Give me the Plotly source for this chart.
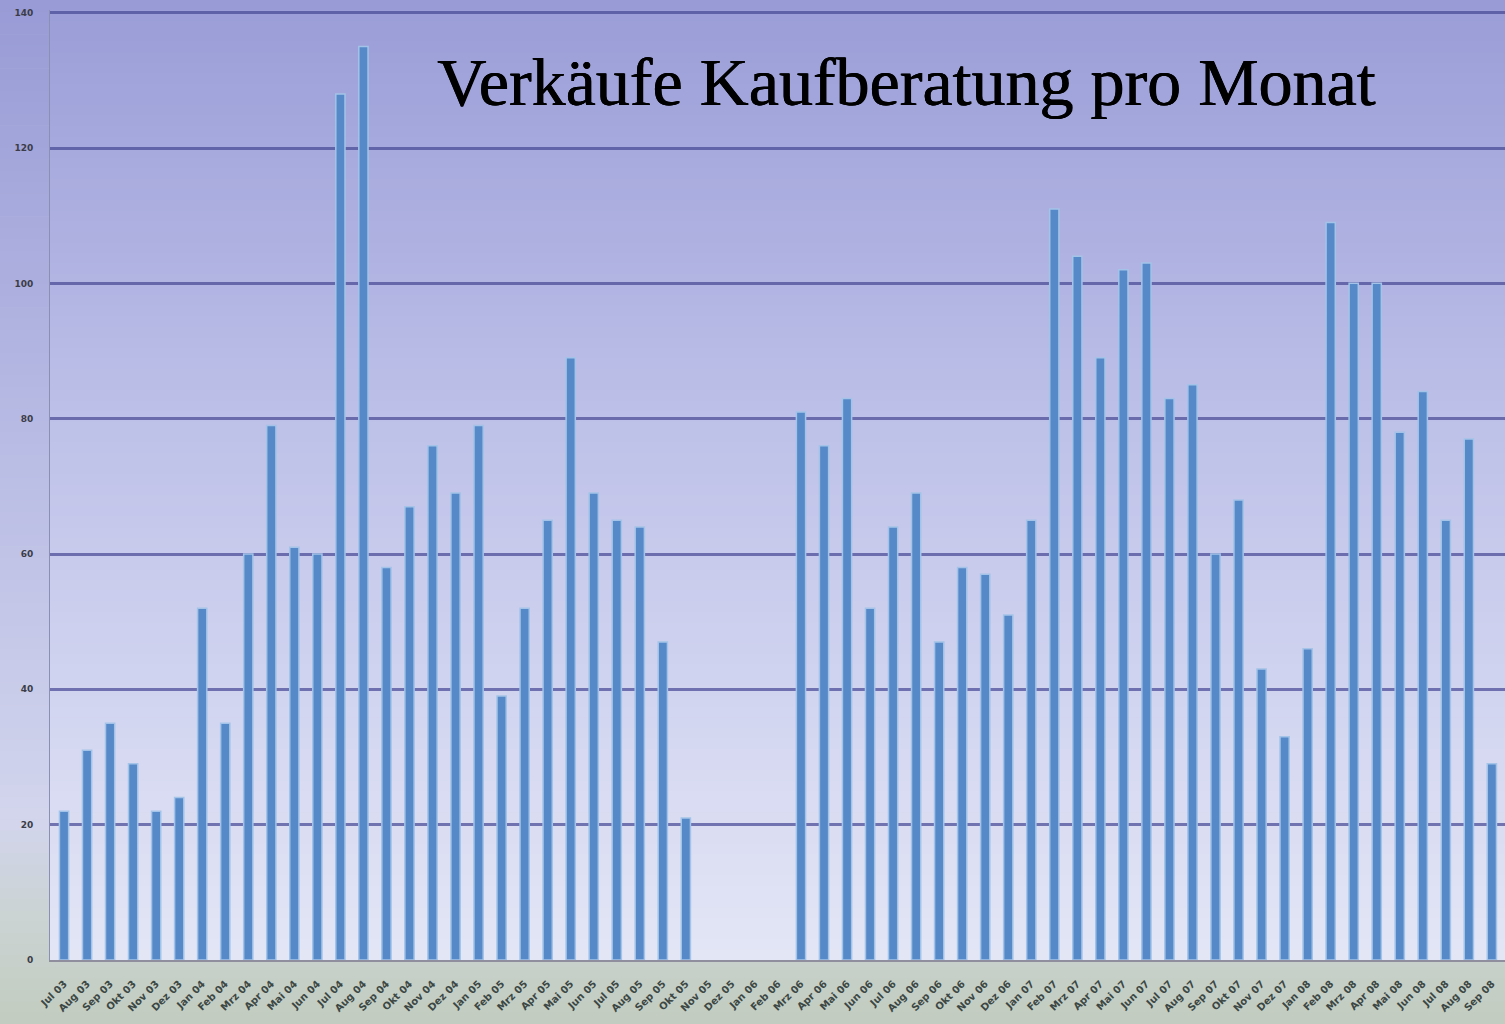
import plotly.graph_objects as go

# monthly sales, Jul 03 .. Sep 08 (None = no data)
MONTHS = ["Jan", "Feb", "Mrz", "Apr", "Mai", "Jun",
          "Jul", "Aug", "Sep", "Okt", "Nov", "Dez"]
START_YEAR = 3
START_MONTH = 6  # index into MONTHS -> "Jul"

SALES = [
    22, 31, 35, 29, 22, 24,                      # Jul 03 - Dez 03
    52, 35, 60, 79, 61, 60, 128, 135, 58, 67, 76, 69,   # 2004
    79, 39, 52, 65, 89, 69, 65, 64, 47, 21, None, None,  # 2005
    None, None, 81, 76, 83, 52, 64, 69, 47, 58, 57, 51,  # 2006
    65, 111, 104, 89, 102, 103, 83, 85, 60, 68, 43, 33,  # 2007
    46, 109, 100, 100, 78, 84, 65, 77, 29,               # Jan 08 - Sep 08
]

Y_TICKS = [0, 20, 40, 60, 80, 100, 120, 140]
TITLE = "Verkäufe Kaufberatung pro Monat"

labels = []
for i in range(len(SALES)):
    m = START_MONTH + i
    labels.append(f"{MONTHS[m % 12]} {START_YEAR + m // 12:02d}")

W, H = 1505, 1024
M_L, M_R, M_T, M_B = 50, 0, 10, 64
PLOT_H = H - M_T - M_B


def hex_rgb(c):
    c = c.lstrip("#")
    return tuple(int(c[i:i + 2], 16) for i in (0, 2, 4))


def blend(stops, py):
    for (p0, c0), (p1, c1) in zip(stops, stops[1:]):
        if p0 <= py <= p1:
            t = (py - p0) / (p1 - p0) if p1 > p0 else 0
            a, b = hex_rgb(c0), hex_rgb(c1)
            return "rgb({},{},{})".format(*(round(x + (y - x) * t) for x, y in zip(a, b)))
    return stops[-1][1]


def to_paper_y(py):
    return (H - M_B - py) / PLOT_H


def gradient_bands(stops, x0, x1, py_top, py_bottom, n=90):
    shapes = []
    step = (py_bottom - py_top) / n
    for k in range(n):
        top = py_top + k * step
        bot = top + step + 0.6
        shapes.append(dict(
            type="rect", xref="paper", yref="paper", layer="below",
            x0=x0, x1=x1, y0=to_paper_y(bot), y1=to_paper_y(top),
            fillcolor=blend(stops, top + step / 2), line_width=0,
        ))
    return shapes


paper_stops = [(0, "#989bd5"), (450, "#b9bce4"), (820, "#d2d5ec"),
               (920, "#cbd3d2"), (1024, "#c1ccbf")]
plot_stops = [(0, "#9a9dd7"), (450, "#c0c3e9"), (800, "#d9dcf2"), (962, "#e3e6f5")]

shapes = gradient_bands(paper_stops, -M_L / (W - M_L) - 0.01, 1.0, 0, H)
shapes += gradient_bands(plot_stops, 0, 1, M_T, H - M_B)

fig = go.Figure()
fig.add_trace(go.Bar(
    x=list(range(len(SALES))),
    y=SALES,
    width=0.4,
    marker=dict(color="#5689c8", line=dict(color="#a3c4e8", width=1.5)),
    hoverinfo="x+y",
))

fig.add_annotation(
    text=TITLE, xref="paper", yref="paper",
    x=(906 - M_L) / (W - M_L), y=to_paper_y(82),
    xanchor="center", yanchor="middle", showarrow=False,
    font=dict(family="Liberation Serif", size=68, color="#000000",
              shadow="0.7px 0 0 #000, 0 0.4px 0 #000"),
)

fig.update_layout(
    width=W, height=H,
    margin=dict(l=M_L, r=M_R, t=M_T, b=M_B),
    paper_bgcolor="#c4cee0",
    plot_bgcolor="rgba(0,0,0,0)",
    shapes=shapes,
    showlegend=False,
    bargap=0.6,
)

fig.update_xaxes(
    range=[-0.61, 62.57],
    tickmode="array",
    tickvals=list(range(len(labels))),
    ticktext=labels,
    tickangle=-45,
    tickfont=dict(family="DejaVu Sans", size=10, color="#3c4744", weight="bold"),
    showgrid=False,
    showline=True, linecolor="#8e8e9e", linewidth=2,
    ticks="", ticklabelstandoff=12,
)

fig.update_yaxes(
    range=[0, 140.4],
    tickvals=Y_TICKS,
    tickfont=dict(family="DejaVu Sans", size=9, color="#3c3c48", weight="bold"),
    showgrid=True, gridcolor="rgba(72,74,150,0.72)", gridwidth=2.5,
    zeroline=False,
    showline=True, linecolor="#8c8fb4", linewidth=1,
    ticks="", ticklabelstandoff=14,
)

fig.write_html(
    "out.html",
    config={"displayModeBar": False},
    post_script="document.body.style.margin='0px';",
)
